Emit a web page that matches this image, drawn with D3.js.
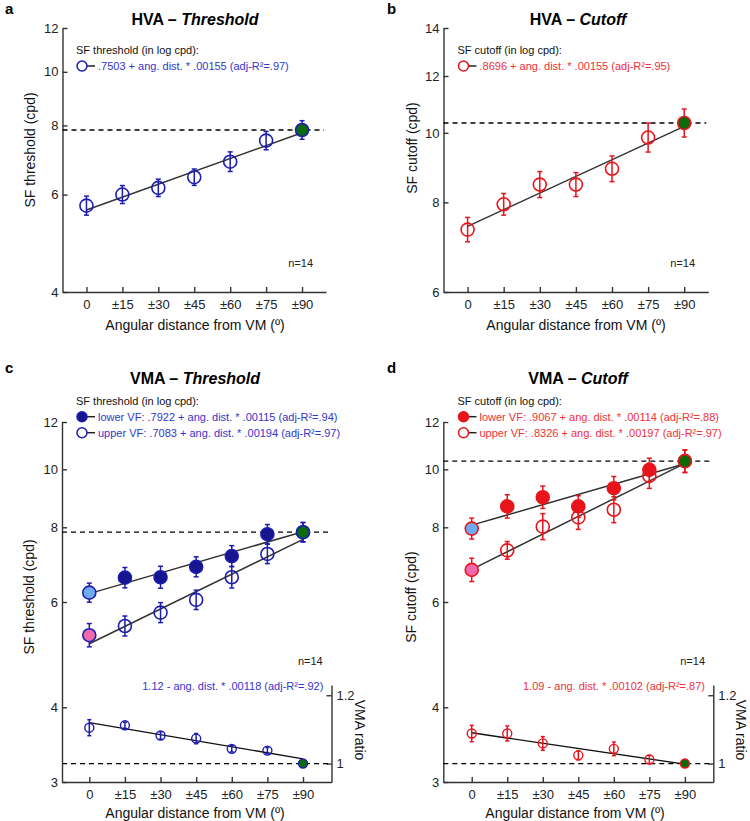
<!DOCTYPE html>
<html><head><meta charset="utf-8">
<script src="https://cdn.jsdelivr.net/npm/d3@7"></script>
<style>body{margin:0;background:#fff} svg text{font-family:"Liberation Sans",Arial,Helvetica,sans-serif}</style>
</head><body><svg id="chart" width="750" height="821"></svg>
<script>
// ---------- data ----------
const angles = [0, 15, 30, 45, 60, 75, 90];
const angleLabels = ["0", "±15", "±30", "±45", "±60", "±75", "±90"];

// HVA (cpd) and SE (log10 units)
const hvaThreshold    = [5.73, 6.00, 6.17, 6.45, 6.88, 7.51, 7.85];
const hvaThresholdErr = [0.0172, 0.0163, 0.0157, 0.0148, 0.0177, 0.0166, 0.0168];
const hvaCutoff       = [7.33, 7.95, 8.47, 8.47, 8.91, 9.85, 10.32];
const hvaCutoffErr    = [0.0170, 0.0151, 0.0181, 0.0167, 0.0179, 0.0202, 0.0195];

// VMA threshold: lower / upper visual field
const vmaThrLower    = [6.22, 6.59, 6.60, 6.87, 7.16, 7.79, 7.85];
const vmaThrLowerErr = [0.0159, 0.0170, 0.0184, 0.0167, 0.0175, 0.0162, 0.0162];
const vmaThrUpper    = [5.28, 5.47, 5.76, 6.05, 6.60, 7.22, 7.85];
const vmaThrUpperErr = [0.0195, 0.0167, 0.0167, 0.0162, 0.0180, 0.0162, 0.0162];
// VMA cutoff
const vmaCutLower    = [7.96, 8.67, 8.98, 8.67, 9.30, 9.98, 10.32];
const vmaCutLowerErr = [0.0175, 0.0195, 0.0187, 0.0180, 0.0195, 0.0195, 0.0189];
const vmaCutUpper    = [6.79, 7.32, 8.02, 8.31, 8.56, 9.75, 10.32];
const vmaCutUpperErr = [0.0195, 0.0147, 0.0217, 0.0200, 0.0217, 0.0209, 0.0189];

// VMA ratio
const vmaThrRatio    = [1.105, 1.112, 1.082, 1.073, 1.043, 1.038, 1.000];
const vmaThrRatioErr = [0.0235, 0.009, 0.011, 0.015, 0.009, 0.009, 0];
const vmaCutRatio    = [1.088, 1.088, 1.059, 1.024, 1.043, 1.012, 1.000];
const vmaCutRatioErr = [0.024, 0.022, 0.020, 0.013, 0.020, 0.012, 0];

// fits: [intercept, slope]  (log10 cpd for SF, linear for ratio)
const hvaThrFit       = [0.7503, 0.00155];
const hvaCutFit       = [0.8696, 0.00155];
const vmaThrLowerFit  = [0.7922, 0.00115];
const vmaThrUpperFit  = [0.7083, 0.00194];
const vmaCutLowerFit  = [0.9067, 0.00114];
const vmaCutUpperFit  = [0.8326, 0.00197];
const vmaThrRatioFit  = [1.12, -0.00118];
const vmaCutRatioFit  = [1.09, -0.00102];

const hmThreshold = 7.85, hmCutoff = 10.32;
const ratioTicks = [1, 1.2];

// ---------- style ----------
const BLUE = "#1c1cb0", BLUE_FILL = "#16168f", BLUE_TXT = "#3535cc";
const RED = "#e8141c", RED_TXT = "#f0303a";
const GREEN = "#0b6a0b", LIGHTBLUE = "#6fabef", PINK = "#ee6aac";
const AX = "#333";

const svg = d3.select("#chart");

function styleAxis(a, fs) {
  a.select(".domain").attr("stroke", AX).attr("stroke-width", 1.4);
  a.selectAll(".tick line").attr("stroke", AX).attr("stroke-width", 1.4);
  a.selectAll(".tick text").attr("fill", "#222").style("font-size", fs + "px")
    .style("font-family", '"Liberation Sans",Arial,sans-serif');
}

function drawPanel(p) {
  const g = svg.append("g");
  const x = d3.scaleLinear().domain(p.xDomain).range(p.xRange);
  const y = d3.scaleLog().domain(p.yDomain).range(p.yRange);

  // panel letter
  g.append("text").attr("x", p.letterX).attr("y", p.letterY).text(p.letter)
    .style("font-size", "15px").style("font-weight", "bold").attr("fill", "#000");
  // title
  const t = g.append("text").attr("x", p.titleX).attr("y", p.titleY).attr("text-anchor", "middle")
    .style("font-size", "16px").style("font-weight", "bold").attr("fill", "#000");
  t.append("tspan").text(p.title[0] + " \u2013 ");
  t.append("tspan").style("font-style", "italic").text(p.title[1]);

  // axes
  const ax = g.append("g").attr("transform", `translate(0,${p.yRange[0]})`)
    .call(d3.axisBottom(x).tickValues(angles).tickFormat((d, i) => angleLabels[i])
      .tickSize(-5).tickSizeOuter(0).tickPadding(8));
  styleAxis(ax, 13);
  const ay = g.append("g").attr("transform", `translate(${p.xRange[0]},0)`)
    .call(d3.axisLeft(y).tickValues(p.yTicks).tickFormat(d3.format("d"))
      .tickSize(-5).tickSizeOuter(0).tickPadding(4));
  styleAxis(ay, 13);

  // axis titles
  g.append("text").attr("x", p.xLabelX).attr("y", p.xLabelY).attr("text-anchor", "middle")
    .style("font-size", "14px").attr("fill", "#111").text("Angular distance from VM (\u00ba)");
  g.append("text").attr("transform", `translate(${p.yLabelX},${p.yLabelY}) rotate(-90)`)
    .attr("text-anchor", "middle").attr("dy", "0.35em")
    .style("font-size", "14px").attr("fill", "#111").text(p.yLabel);

  // legend
  g.append("text").attr("x", p.legX).attr("y", p.legY).attr("dy", "0.35em")
    .style("font-size", "11px").attr("fill", "#111").text(p.legHeader);
  p.series.forEach((s, k) => {
    const ly = p.legY + 16 * (k + 1);
    g.append("line").attr("x1", p.legX + 6).attr("x2", p.legX + 19).attr("y1", ly).attr("y2", ly)
      .attr("stroke", "#222").attr("stroke-width", 1.5);
    g.append("circle").attr("cx", p.legX + 6).attr("cy", ly).attr("r", 5)
      .attr("fill", s.filled ? p.dark : "#fff").attr("stroke", p.color).attr("stroke-width", 1.5);
    g.append("text").attr("x", p.legX + 22).attr("y", ly).attr("dy", "0.35em")
      .style("font-size", "11px").attr("fill", p.txt).text(s.label);
  });

  // n=14
  g.append("text").attr("x", p.nX).attr("y", p.nY).attr("dy", "0.35em").attr("text-anchor", "end")
    .style("font-size", "11px").attr("fill", "#222").text("n=14");

  // reference dashed line
  g.append("line").attr("x1", p.xRange[0]).attr("x2", p.xRange[1] - 2)
    .attr("y1", y(p.ref)).attr("y2", y(p.ref))
    .attr("stroke", "#000").attr("stroke-width", 1.3).attr("stroke-dasharray", "5,4");

  // fit lines
  p.series.forEach(s => {
    g.append("line")
      .attr("x1", x(angles[0])).attr("y1", y(Math.pow(10, s.fit[0] + angles[0] * s.fit[1])))
      .attr("x2", x(angles[6])).attr("y2", y(Math.pow(10, s.fit[0] + angles[6] * s.fit[1])))
      .attr("stroke", "#333").attr("stroke-width", 1.5);
  });

  // points (draw series in reverse so lower VF is on top)
  p.series.slice().reverse().forEach(s => {
    s.values.forEach((v, i) => {
      const cx = x(angles[i]);
      const e = s.err[i];
      const y1 = y(v * Math.pow(10, e)), y2 = y(v / Math.pow(10, e));
      const eb = g.append("g").attr("stroke", p.color).attr("stroke-width", 1.5);
      eb.append("line").attr("x1", cx).attr("x2", cx).attr("y1", y1).attr("y2", y2);
      eb.append("line").attr("x1", cx - 2.5).attr("x2", cx + 2.5).attr("y1", y1).attr("y2", y1);
      eb.append("line").attr("x1", cx - 2.5).attr("x2", cx + 2.5).attr("y1", y2).attr("y2", y2);
      let fill = s.filled ? p.dark : "none";
      if (i === angles.length - 1) fill = GREEN;
      else if (i === 0 && p.vma) fill = s.filled ? LIGHTBLUE : PINK;
      g.append("circle").attr("cx", cx).attr("cy", y(v)).attr("r", 6.5)
        .attr("fill", fill).attr("stroke", p.color).attr("stroke-width", 1.6);
    });
  });

  // VMA ratio sub-plot
  if (p.ratio) {
    const r = p.ratio;
    const ry = d3.scaleLinear().domain(r.domain).range(r.range);
    const ar = g.append("g").attr("transform", `translate(${p.xRange[1]},0)`)
      .call(d3.axisRight(ry).tickValues(ratioTicks).tickFormat(d => d === 1 ? "1" : "1.2")
        .tickSize(-5).tickSizeOuter(0).tickPadding(5));
    styleAxis(ar, 13);
    g.append("text").attr("transform", `translate(${p.xRange[1] + 28},${r.labelY}) rotate(90)`)
      .attr("text-anchor", "middle").attr("dy", "0.35em")
      .style("font-size", "14px").attr("fill", "#111").text("VMA ratio");
    g.append("line").attr("x1", p.xRange[0]).attr("x2", p.xRange[1])
      .attr("y1", ry(1)).attr("y2", ry(1))
      .attr("stroke", "#000").attr("stroke-width", 1.3).attr("stroke-dasharray", "5,4");
    g.append("line")
      .attr("x1", x(angles[0])).attr("y1", ry(r.fit[0] + angles[0] * r.fit[1]))
      .attr("x2", x(angles[6])).attr("y2", ry(r.fit[0] + angles[6] * r.fit[1]))
      .attr("stroke", "#111").attr("stroke-width", 1.4);
    r.values.forEach((v, i) => {
      const cx = x(angles[i]);
      const e = r.err[i];
      if (e > 0) {
        const eb = g.append("g").attr("stroke", p.color).attr("stroke-width", 1.5);
        eb.append("line").attr("x1", cx).attr("x2", cx).attr("y1", ry(v + e)).attr("y2", ry(v - e));
        eb.append("line").attr("x1", cx - 2).attr("x2", cx + 2).attr("y1", ry(v + e)).attr("y2", ry(v + e));
        eb.append("line").attr("x1", cx - 2).attr("x2", cx + 2).attr("y1", ry(v - e)).attr("y2", ry(v - e));
      }
      const last = i === angles.length - 1;
      g.append("circle").attr("cx", cx).attr("cy", ry(v)).attr("r", 4.5)
        .attr("fill", last ? GREEN : "none").attr("stroke", p.color).attr("stroke-width", 1.4);
    });
    g.append("text").attr("x", r.textX).attr("y", r.textY).attr("dy", "0.35em").attr("text-anchor", "end")
      .style("font-size", "11px").attr("fill", p.txt).text(r.text);
  }
}

drawPanel({
  letter: "a", letterX: 5, letterY: 14, title: ["HVA", "Threshold"], titleX: 195, titleY: 25,
  xDomain: [-10, 100], xRange: [62.5, 326], yDomain: [4, 12], yRange: [292, 28], yTicks: [4, 6, 8, 10, 12],
  xLabelX: 195, xLabelY: 330, yLabel: "SF threshold (cpd)", yLabelX: 30, yLabelY: 150,
  legX: 76, legY: 50, legHeader: "SF threshold (in log cpd):",
  nX: 313, nY: 263, ref: hmThreshold, color: BLUE, dark: BLUE_FILL, txt: BLUE_TXT, vma: false,
  series: [{ values: hvaThreshold, err: hvaThresholdErr, fit: hvaThrFit, filled: false,
    label: ".7503 + ang. dist. * .00155 (adj-R\u00b2=.97)" }]
});
drawPanel({
  letter: "b", letterX: 387, letterY: 14, title: ["HVA", "Cutoff"], titleX: 578, titleY: 25,
  xDomain: [-10, 100], xRange: [443.5, 708.3], yDomain: [6, 14], yRange: [292, 28], yTicks: [6, 8, 10, 12, 14],
  xLabelX: 576, xLabelY: 330, yLabel: "SF cutoff (cpd)", yLabelX: 412, yLabelY: 148,
  legX: 457.5, legY: 50, legHeader: "SF cutoff (in log cpd):",
  nX: 695, nY: 263, ref: hmCutoff, color: RED, dark: RED, txt: RED_TXT, vma: false,
  series: [{ values: hvaCutoff, err: hvaCutoffErr, fit: hvaCutFit, filled: false,
    label: ".8696 + ang. dist. * .00155 (adj-R\u00b2=.95)" }]
});
drawPanel({
  letter: "c", letterX: 5, letterY: 373, title: ["VMA", "Threshold"], titleX: 195, titleY: 384,
  xDomain: [-11.5, 102], xRange: [62, 331.5], yDomain: [3, 12], yRange: [782, 422], yTicks: [3, 4, 6, 8, 10, 12],
  xLabelX: 195, xLabelY: 818, yLabel: "SF threshold (cpd)", yLabelX: 29, yLabelY: 597,
  legX: 76, legY: 400.7, legHeader: "SF threshold (in log cpd):",
  nX: 322.7, nY: 661, ref: hmThreshold, color: BLUE, dark: BLUE_FILL, txt: BLUE_TXT, vma: true,
  series: [
    { values: vmaThrLower, err: vmaThrLowerErr, fit: vmaThrLowerFit, filled: true,
      label: "lower VF: .7922 + ang. dist. * .00115 (adj-R\u00b2=.94)" },
    { values: vmaThrUpper, err: vmaThrUpperErr, fit: vmaThrUpperFit, filled: false,
      label: "upper VF: .7083 + ang. dist. * .00194 (adj-R\u00b2=.97)" }],
  ratio: { values: vmaThrRatio, err: vmaThrRatioErr, fit: vmaThrRatioFit, domain: [0.946, 1.23], range: [782, 685],
    labelY: 730, textX: 323.3, textY: 686, text: "1.12 - ang. dist. * .00118 (adj-R\u00b2=.92)" }
});
drawPanel({
  letter: "d", letterX: 387, letterY: 373, title: ["VMA", "Cutoff"], titleX: 578, titleY: 384,
  xDomain: [-12, 102], xRange: [443.3, 713.3], yDomain: [3, 12], yRange: [782, 422], yTicks: [3, 4, 6, 8, 10, 12],
  xLabelX: 575, xLabelY: 818, yLabel: "SF cutoff (cpd)", yLabelX: 411, yLabelY: 597,
  legX: 457.5, legY: 400.7, legHeader: "SF cutoff (in log cpd):",
  nX: 705, nY: 661, ref: hmCutoff, color: RED, dark: RED, txt: RED_TXT, vma: true,
  series: [
    { values: vmaCutLower, err: vmaCutLowerErr, fit: vmaCutLowerFit, filled: true,
      label: "lower VF: .9067 + ang. dist. * .00114 (adj-R\u00b2=.88)" },
    { values: vmaCutUpper, err: vmaCutUpperErr, fit: vmaCutUpperFit, filled: false,
      label: "upper VF: .8326 + ang. dist. * .00197 (adj-R\u00b2=.97)" }],
  ratio: { values: vmaCutRatio, err: vmaCutRatioErr, fit: vmaCutRatioFit, domain: [0.946, 1.23], range: [782, 685],
    labelY: 730, textX: 705, textY: 686, text: "1.09 - ang. dist. * .00102 (adj-R\u00b2=.87)" }
});
</script></body></html>
